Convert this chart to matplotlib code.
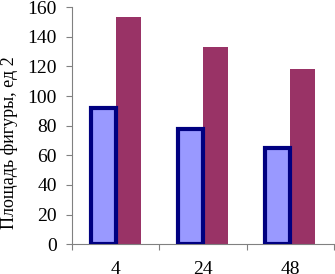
import matplotlib
matplotlib.use("Agg")
import matplotlib.pyplot as plt
import numpy as np

categories = ["4", "24", "48"]
series_a = [92, 78, 65]
series_b = [153, 133, 118]

plt.rcParams['font.family'] = ['Liberation Serif', 'DejaVu Serif']

fig = plt.figure(figsize=(3.35, 2.74), dpi=100)
ax = fig.add_axes([0.215, 0.109, 0.782, 0.865])

x = np.arange(len(categories))
w = 0.286
ax.bar(x - w / 2, series_a, width=w, color='#9999FF', edgecolor='#000080', linewidth=3.0, zorder=3)
ax.bar(x + w / 2, series_b, width=w, color='#993366', edgecolor='none', zorder=2)

ax.set_xlim(-0.5, len(categories) - 0.5)
ax.set_ylim(0, 160)
ax.set_yticks(np.arange(0, 161, 20))
ax.set_xticks(x)
ax.set_xticklabels(categories)
ax.set_xticks(np.arange(-0.5, len(categories)), minor=True)
ax.tick_params(axis='x', which='major', length=0, labelsize=14, pad=12)
ax.tick_params(axis='x', which='minor', length=4, color='#808080', width=0.8)
ax.tick_params(axis='y', length=4, color='#808080', width=0.8, labelsize=14, pad=7)

for s in ['top', 'right']:
    ax.spines[s].set_visible(False)
for s in ['left', 'bottom']:
    ax.spines[s].set_color('#808080')
    ax.spines[s].set_linewidth(0.8)

fig.text(9 / 335, 1 - 143 / 274, 'Площадь фигуры, ед 2', rotation=90,
         ha='center', va='center', fontsize=13)

fig.savefig('out.png', dpi=100)
